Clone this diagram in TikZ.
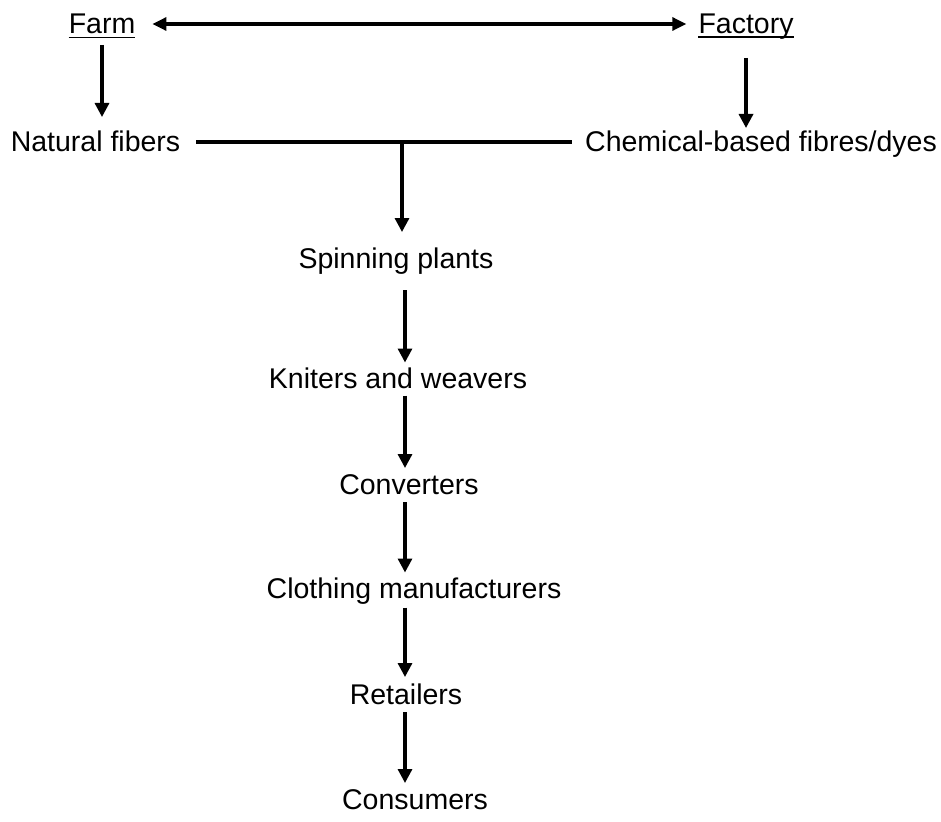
\documentclass[tikz,border=0pt]{standalone}
\usepackage{fontspec}
\setmainfont{Liberation Sans}
\usetikzlibrary{arrows.meta}
\tikzset{
  lbl/.style={inner sep=0pt, anchor=base, font=\fontsize{28.5}{34}\selectfont},
  arr/.style={line width=3.2pt, -{Triangle[width=14pt,length=14pt]}},
  dbl/.style={line width=3.2pt, {Triangle[width=13pt,length=14pt]}-{Triangle[width=13pt,length=14pt]}},
  ln/.style={line width=3.2pt},
  ul/.style={line width=1.8pt}
}
\begin{document}
\begin{tikzpicture}[x=1pt,y=-1pt]
\useasboundingbox (0,0) rectangle (941,821);
\node[lbl] (farm) at (102,34) {Farm};
\node[lbl] (factory) at (746,33.5) {Factory};
\node[lbl] (natural) at (95.5,152) {Natural fibers};
\node[lbl] (chem) at (761,152) {Chemical-based fibres/dyes};
\node[lbl] (spin) at (396,268) {Spinning plants};
\node[lbl] (kn) at (398,388.5) {Kniters and weavers};
\node[lbl] (conv) at (409,494) {Converters};
\node[lbl] (cloth) at (414,598.5) {Clothing manufacturers};
\node[lbl] (ret) at (406,704) {Retailers};
\node[lbl] (cons) at (415,809) {Consumers};
% underlines
\draw[ul] ([yshift=-3.5pt]farm.base west) -- ([yshift=-3.5pt]farm.base east);
\draw[ul] ([yshift=-3.5pt]factory.base west) -- ([yshift=-3.5pt]factory.base east);
% top double arrow
\draw[dbl] ([xshift=17pt,yshift=10pt]farm.base east) -- ([xshift=-12pt,yshift=9.5pt]factory.base west);
% down arrows from Farm and Factory
\draw[arr] ([yshift=-11pt]farm.base) -- ([yshift=35pt]farm.base |- natural.base);
\draw[arr] ([yshift=-24.5pt]factory.base) -- ([yshift=24pt]factory.base |- chem.base);
% joining line
\coordinate (j) at (402,142);
\draw[ln] ([xshift=16pt,yshift=10pt]natural.base east) -- ([xshift=-13pt,yshift=10pt]chem.base west);
\draw[arr] (j) -- ([yshift=36pt]j |- spin.base);
% chain
\coordinate (col) at (405,0);
\draw[arr] ([yshift=-22pt]spin.base -| col) -- ([yshift=26pt]kn.base -| col);
\draw[arr] ([yshift=-7pt]kn.base -| col) -- ([yshift=26pt]conv.base -| col);
\draw[arr] ([yshift=-8pt]conv.base -| col) -- ([yshift=26pt]cloth.base -| col);
\draw[arr] ([yshift=-9pt]cloth.base -| col) -- ([yshift=27pt]ret.base -| col);
\draw[arr] ([yshift=-8pt]ret.base -| col) -- ([yshift=26pt]cons.base -| col);
\end{tikzpicture}
\end{document}
